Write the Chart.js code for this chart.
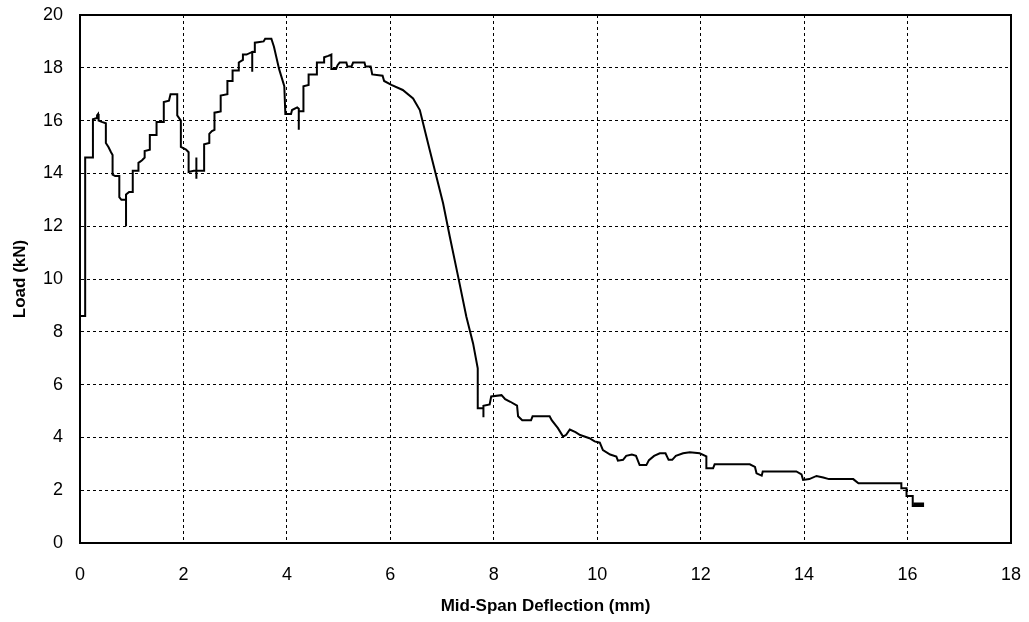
<!DOCTYPE html>
<html>
<head>
<meta charset="utf-8">
<script src="https://cdn.jsdelivr.net/npm/chart.js@4.4.1/dist/chart.umd.min.js"></script>
<style>
  html, body { margin: 0; padding: 0; background: #ffffff; }
  canvas { display: block; }
</style>
</head>
<body>
<canvas id="chart" width="1029" height="622"></canvas>
<script>
// Mid-span deflection (mm) and applied load (kN), recorded point by point
const deflection = [
  0.00, 0.10, 0.10, 0.25, 0.25, 0.33, 0.33, 0.35, 0.36, 0.42, 0.50, 0.50, 0.55, 0.60, 0.63, 0.63, 0.68, 0.76, 0.76, 0.80,
  0.89, 0.89, 0.89, 0.95, 1.02, 1.02, 1.13, 1.13, 1.20, 1.25, 1.25, 1.35, 1.35, 1.48, 1.48, 1.62, 1.62, 1.72, 1.75, 1.88,
  1.88, 1.95, 1.95, 2.05, 2.10, 2.10, 2.20, 2.25, 2.25, 2.25, 2.25, 2.40, 2.40, 2.50, 2.50, 2.55, 2.60, 2.60, 2.72, 2.72,
  2.85, 2.85, 2.95, 2.95, 3.07, 3.07, 3.15, 3.15, 3.22, 3.33, 3.33, 3.33, 3.38, 3.38, 3.55, 3.58, 3.70, 3.75, 3.85, 3.95,
  3.97, 4.08, 4.10, 4.20, 4.23, 4.23, 4.23, 4.32, 4.32, 4.42, 4.42, 4.58, 4.58, 4.72, 4.72, 4.80, 4.86, 4.86, 4.95, 4.98,
  5.02, 5.15, 5.17, 5.25, 5.28, 5.50, 5.52, 5.62, 5.65, 5.85, 5.88, 6.02, 6.24, 6.44, 6.57, 6.62, 6.76, 6.89, 7.02, 7.15,
  7.31, 7.47, 7.60, 7.69, 7.69, 7.80, 7.80, 7.80, 7.92, 7.95, 8.15, 8.22, 8.32, 8.45, 8.47, 8.55, 8.72, 8.75, 9.08, 9.12,
  9.24, 9.34, 9.40, 9.47, 9.58, 9.67, 9.85, 9.95, 10.05, 10.11, 10.25, 10.37, 10.40, 10.50, 10.56, 10.67, 10.75, 10.82, 10.95, 11.00,
  11.10, 11.21, 11.32, 11.38, 11.45, 11.52, 11.66, 11.79, 11.98, 12.11, 12.11, 12.24, 12.27, 12.95, 13.05, 13.08, 13.18, 13.20, 13.85, 13.95,
  13.98, 14.10, 14.24, 14.37, 14.48, 14.95, 15.05, 15.88, 15.88, 15.98, 15.98, 16.10, 16.10, 16.30, 16.30, 16.14, 16.14, 16.30, 16.30, 16.14,
  16.14, 16.30
];
const load = [
  8.60, 8.60, 14.60, 14.60, 16.05, 16.10, 16.20, 16.25, 16.00, 15.95, 15.90, 15.15, 15.00, 14.80, 14.70, 13.95, 13.90, 13.90, 13.10, 13.00,
  13.00, 12.00, 13.20, 13.30, 13.30, 14.10, 14.10, 14.40, 14.50, 14.60, 14.85, 14.90, 15.45, 15.45, 15.95, 15.95, 16.70, 16.75, 17.00, 17.00,
  16.20, 16.00, 15.00, 14.90, 14.80, 14.05, 14.10, 14.10, 14.60, 13.80, 14.10, 14.10, 15.10, 15.15, 15.50, 15.60, 15.65, 16.30, 16.35, 16.95,
  17.00, 17.50, 17.50, 17.90, 17.90, 18.20, 18.30, 18.50, 18.50, 18.60, 17.85, 18.60, 18.60, 18.95, 19.00, 19.10, 19.10, 18.80, 17.95, 17.30,
  16.25, 16.25, 16.40, 16.50, 16.45, 15.65, 16.35, 16.35, 17.30, 17.35, 17.75, 17.75, 18.20, 18.20, 18.40, 18.45, 18.50, 17.95, 17.95, 18.10,
  18.20, 18.20, 18.05, 18.05, 18.20, 18.20, 18.05, 18.05, 17.75, 17.70, 17.50, 17.35, 17.16, 16.84, 16.40, 16.00, 14.90, 13.88, 12.87, 11.60,
  10.10, 8.57, 7.56, 6.62, 5.10, 5.10, 4.76, 5.20, 5.25, 5.55, 5.60, 5.45, 5.35, 5.20, 4.80, 4.65, 4.65, 4.80, 4.80, 4.65,
  4.35, 4.03, 4.10, 4.30, 4.20, 4.09, 3.97, 3.85, 3.80, 3.52, 3.35, 3.27, 3.12, 3.15, 3.30, 3.35, 3.30, 2.95, 2.95, 3.14,
  3.30, 3.40, 3.40, 3.15, 3.15, 3.30, 3.40, 3.44, 3.40, 3.28, 2.83, 2.83, 2.98, 2.98, 2.88, 2.64, 2.55, 2.71, 2.71, 2.60,
  2.39, 2.42, 2.54, 2.48, 2.42, 2.42, 2.26, 2.26, 2.07, 2.07, 1.78, 1.78, 1.40, 1.40, 1.50, 1.50, 1.40, 1.40, 1.50, 1.50,
  1.42, 1.45
];

const xTicks = [0, 2, 4, 6, 8, 10, 12, 14, 16, 18];
const yTicks = [0, 2, 4, 6, 8, 10, 12, 14, 16, 18, 20];

const points = deflection.map((x, i) => ({ x: x, y: load[i] }));

// Solid frame around the plotting area
const plotFrame = {
  id: 'plotFrame',
  afterDraw(chart) {
    const { ctx, chartArea: a } = chart;
    ctx.save();
    ctx.strokeStyle = '#000000';
    ctx.lineWidth = 2;
    ctx.strokeRect(a.left, a.top, a.right - a.left, a.bottom - a.top);
    ctx.restore();
  }
};

const tickFont = { family: 'Liberation Sans, Arial, sans-serif', size: 18 };
const titleFont = { family: 'Liberation Sans, Arial, sans-serif', size: 17, weight: 'bold' };
const dashedGrid = {
  color: '#000000',
  lineWidth: 1,
  drawTicks: false
};

new Chart(document.getElementById('chart'), {
  type: 'line',
  data: {
    datasets: [{
      data: points,
      borderColor: '#000000',
      borderWidth: 2,
      pointRadius: 0,
      tension: 0,
      fill: false
    }]
  },
  options: {
    responsive: false,
    animation: false,
    events: [],
    layout: { padding: { top: 15, right: 18, left: 0, bottom: 0 } },
    plugins: { legend: { display: false }, tooltip: { enabled: false } },
    scales: {
      x: {
        type: 'linear',
        min: 0,
        max: 18,
        afterBuildTicks: s => { s.ticks = xTicks.map(v => ({ value: v })); },
        afterFit: s => { s.height = 79; s.paddingLeft = 0; s.paddingRight = 0; },
        ticks: { font: tickFont, color: '#000000', padding: 21, maxRotation: 0 },
        grid: dashedGrid,
        border: { display: true, color: '#000000', width: 2, dash: [3, 3] },
        title: {
          display: true,
          text: 'Mid-Span Deflection (mm)',
          font: titleFont,
          color: '#000000',
          padding: { top: 6, bottom: 5 }
        }
      },
      y: {
        type: 'linear',
        min: 0,
        max: 20,
        afterBuildTicks: s => { s.ticks = yTicks.map(v => ({ value: v })); },
        afterFit: s => { s.width = 80; s.paddingTop = 0; s.paddingBottom = 0; },
        ticks: { font: tickFont, color: '#000000', padding: 17 },
        grid: dashedGrid,
        border: { display: true, color: '#000000', width: 2, dash: [3, 3] },
        title: {
          display: true,
          text: 'Load (kN)',
          font: titleFont,
          color: '#000000',
          padding: { top: 10, bottom: 0 }
        }
      }
    }
  },
  plugins: [plotFrame]
});
</script>
</body>
</html>
